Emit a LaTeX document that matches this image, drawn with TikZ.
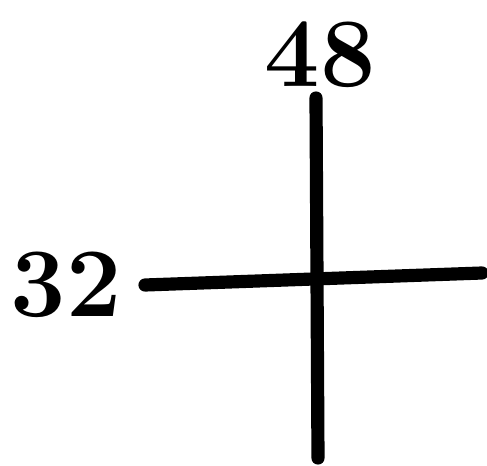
\documentclass[tikz,border=0pt]{standalone}
\usetikzlibrary{positioning}
\tikzset{
  stroke/.style={line width=7.5pt,line cap=round,black},
  numlabel/.style={font=\fontsize{56}{56}\selectfont\bfseries,inner sep=0pt}
}
\begin{document}
\begin{tikzpicture}[x=0.02cm,y=-0.02cm]
\useasboundingbox (0,0) rectangle (487,466);

\coordinate (top) at (316,98);
\coordinate (bot) at (318,458);
\coordinate (lft) at (145,285);
\coordinate (rgt) at (482,273);

\draw[stroke] (top) -- (bot);
\draw[stroke] (lft) -- (rgt);

\node[numlabel] (up) at (320,55) {48};
\node[numlabel] (side) at (66,285) {32};

\end{tikzpicture}
\end{document}
